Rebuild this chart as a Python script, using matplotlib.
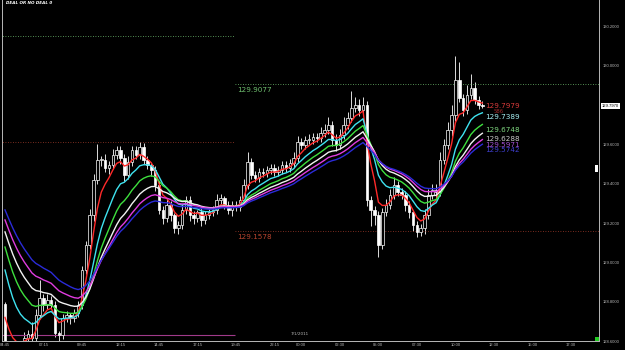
"""
USDJPY-style M15 chart with an EMA ribbon, drawn to look like the MT4 window.
"""

import matplotlib
matplotlib.use("Agg")
import matplotlib.pyplot as plt
from matplotlib.patches import Rectangle

# Close prices, one per 15 minute bar.
closes = [
    128.554, 128.544, 128.529, 128.554, 128.580, 128.615, 128.636, 128.615, 128.732, 128.819,
    128.783, 128.809, 128.783, 128.641, 128.631, 128.717, 128.732, 128.717, 128.742, 128.783,
    128.961, 129.089, 129.241, 129.419, 129.521, 129.521, 129.480, 129.496, 129.547, 129.572,
    129.531, 129.445, 129.511, 129.572, 129.547, 129.587, 129.521, 129.496, 129.470, 129.394,
    129.267, 129.226, 129.292, 129.241, 129.175, 129.190, 129.267, 129.318, 129.241, 129.226,
    129.256, 129.216, 129.241, 129.256, 129.267, 129.318, 129.328, 129.292, 129.267, 129.292,
    129.282, 129.318, 129.394, 129.511, 129.445, 129.429, 129.460, 129.455, 129.470, 129.480,
    129.460, 129.470, 129.496, 129.480, 129.506, 129.531, 129.613, 129.597, 129.623, 129.623,
    129.638, 129.633, 129.659, 129.674, 129.699, 129.623, 129.597, 129.648, 129.699, 129.735,
    129.786, 129.801, 129.776, 129.801, 129.318, 129.267, 129.241, 129.089, 129.256, 129.292,
    129.343, 129.394, 129.358, 129.343, 129.292, 129.256, 129.190, 129.155, 129.175, 129.241,
    129.343, 129.368, 129.358, 129.521, 129.597, 129.674, 129.750, 129.928, 129.837, 129.776,
    129.852, 129.888, 129.826, 129.801, 129.797,
]
first_open = 128.790

# Wick lengths above the body top and below the body bottom.
upper_wicks = [
    0.010, 0.010, 0.010, 0.020, 0.020, 0.030, 0.020, 0.060, 0.030, 0.090,
    0.020, 0.030, 0.020, 0.020, 0.010, 0.020, 0.020, 0.010, 0.020, 0.020,
    0.020, 0.020, 0.030, 0.030, 0.080, 0.020, 0.030, 0.020, 0.030, 0.020,
    0.020, 0.020, 0.030, 0.020, 0.020, 0.025, 0.020, 0.020, 0.010, 0.020,
    0.020, 0.020, 0.030, 0.020, 0.010, 0.020, 0.030, 0.020, 0.020, 0.020,
    0.010, 0.020, 0.020, 0.020, 0.020, 0.030, 0.020, 0.010, 0.020, 0.020,
    0.020, 0.020, 0.030, 0.050, 0.020, 0.020, 0.020, 0.020, 0.020, 0.020,
    0.020, 0.020, 0.020, 0.020, 0.020, 0.030, 0.030, 0.020, 0.020, 0.030,
    0.020, 0.020, 0.030, 0.030, 0.040, 0.020, 0.030, 0.030, 0.040, 0.030,
    0.085, 0.040, 0.030, 0.040, 0.020, 0.020, 0.020, 0.020, 0.020, 0.030,
    0.030, 0.040, 0.020, 0.020, 0.020, 0.020, 0.010, 0.020, 0.020, 0.030,
    0.030, 0.030, 0.030, 0.040, 0.030, 0.040, 0.050, 0.120, 0.090, 0.020,
    0.050, 0.070, 0.030, 0.020, 0.020,
]
lower_wicks = [
    0.010, 0.010, 0.020, 0.020, 0.020, 0.020, 0.030, 0.020, 0.020, 0.020,
    0.030, 0.020, 0.020, 0.020, 0.030, 0.020, 0.020, 0.030, 0.020, 0.020,
    0.020, 0.020, 0.020, 0.030, 0.020, 0.030, 0.020, 0.030, 0.020, 0.020,
    0.030, 0.030, 0.020, 0.020, 0.020, 0.020, 0.020, 0.020, 0.030, 0.030,
    0.020, 0.030, 0.020, 0.030, 0.025, 0.030, 0.020, 0.020, 0.030, 0.030,
    0.020, 0.030, 0.020, 0.020, 0.020, 0.020, 0.020, 0.020, 0.020, 0.030,
    0.020, 0.020, 0.020, 0.020, 0.020, 0.020, 0.020, 0.020, 0.020, 0.020,
    0.020, 0.020, 0.020, 0.020, 0.020, 0.020, 0.020, 0.020, 0.020, 0.020,
    0.020, 0.020, 0.020, 0.020, 0.020, 0.030, 0.030, 0.020, 0.020, 0.020,
    0.020, 0.020, 0.030, 0.020, 0.030, 0.080, 0.050, 0.060, 0.020, 0.020,
    0.020, 0.020, 0.020, 0.020, 0.030, 0.030, 0.030, 0.025, 0.020, 0.030,
    0.020, 0.020, 0.030, 0.020, 0.020, 0.020, 0.030, 0.030, 0.020, 0.030,
    0.020, 0.020, 0.020, 0.020, 0.010,
]

# EMA ribbon: periods, value of each line at the first bar, and label texts.
ema_periods = [5, 10, 15, 20, 25, 30]
ema_seeds = [128.720, 128.961, 129.078, 129.155, 129.216, 129.267]
ema_labels = ["129.7979", "129.7389", "129.6748", "129.6288", "129.5971", "129.5742"]

# Horizontal level lines (previous session / current session).
prev_high = 130.152
prev_low = 129.613
prev_base = 128.630
day_high = 129.9077
day_low = 129.1578
last_price = 129.7970

# Time axis labels: bar index and text.
time_bars = [0, 10, 20, 30, 40, 50, 60, 70, 77, 87, 97, 107, 117, 127, 137, 147]
time_texts = ["04:45", "07:15", "09:45", "12:15", "14:45", "17:15", "19:45", "22:15",
              "00:00", "02:30", "05:00", "07:30", "10:00", "12:30", "15:00", "17:30"]
price_ticks = [128.6, 128.8, 129.0, 129.2, 129.4, 129.6, 129.8, 130.0, 130.2]

# Colours.
ema_colors = ["#ff2a2a", "#3fe3f0", "#3ee03e", "#f2f2f2", "#e03ce0", "#2b2bd8"]
label_colors = ["#d83a3a", "#a6eef2", "#7fd67f", "#c8c8c8", "#a050d0", "#3f3fcf"]
axis_grey = "#b8b8b8"


def ema(values, period, seed):
    """Exponential moving average started from a known first value."""
    alpha = 2.0 / (period + 1)
    out = [seed]
    for v in values[1:]:
        out.append(out[-1] + alpha * (v - out[-1]))
    return out


fig = plt.figure(figsize=(6.25, 3.5), dpi=100, facecolor="black")
ax = fig.add_axes([2 / 625, 9 / 350, 597 / 625, 341 / 350])
ax.set_facecolor("black")

n_bars = len(closes)
bars = list(range(n_bars))
opens = [first_open] + closes[:-1]

# Candles: bearish bars white filled, bullish bars hollow.
for i in bars:
    o, c = opens[i], closes[i]
    top, bot = max(o, c), min(o, c)
    ax.vlines(i, bot - lower_wicks[i], top + upper_wicks[i], color="white", linewidth=0.6, zorder=2)
    face = "white" if c < o else "black"
    ax.add_patch(Rectangle((i - 0.33, bot), 0.66, max(top - bot, 0.003),
                           facecolor=face, edgecolor="white", linewidth=0.5, zorder=3))

# EMA ribbon.
for period, seed, color in zip(ema_periods, ema_seeds, ema_colors):
    ax.plot(bars, ema(closes, period, seed), color=color, linewidth=1.0, zorder=4)

# Level lines.
split = 59.7
x_left, x_right = -1.3, 154.3
ax.hlines(prev_high, x_left, split, color="#6fbf6f", linestyle=(0, (1, 2)), linewidth=0.6)
ax.hlines(prev_low, x_left, split, color="#a03a2a", linestyle=(0, (1, 2)), linewidth=0.6)
ax.hlines(prev_base, x_left, split, color="#a03a8a", linewidth=0.8)
ax.hlines(day_high, split, x_right, color="#6fbf6f", linestyle=(0, (1, 2)), linewidth=0.6)
ax.hlines(day_low, split, x_right, color="#a03a2a", linestyle=(0, (1, 2)), linewidth=0.6)
ax.text(split + 0.5, day_high - 0.03, f"{day_high:.4f}", color="#6fbf6f", fontsize=5.2,
        va="center", ha="left")
ax.text(split + 0.5, day_low - 0.03, f"{day_low:.4f}", color="#b8442e", fontsize=5.2,
        va="center", ha="left")

# EMA value labels at the right end of the ribbon.
for text, color in zip(ema_labels, label_colors):
    ax.text(n_bars - 0.3, float(text), text, color=color, fontsize=5.2, va="center", ha="left")
ax.text(n_bars + 2.0, float(ema_labels[0]) - 0.03, "586", color="#a02a2a", fontsize=3.8,
        va="center", ha="left")

# Date marker and title.
ax.text(76.6, 128.636, "7/1/2011", color=axis_grey, fontsize=3, ha="center", va="center")
ax.text(0.3, 130.320, "DEAL OR NO DEAL 0", color="white", fontsize=3, fontweight="bold",
        fontstyle="italic", ha="left", va="center")

ax.set_xlim(-0.78, 154.3)
ax.set_ylim(128.6, 130.335)

# Axes and ticks in MT4 style.
ax.spines["top"].set_visible(False)
for side in ["left", "right", "bottom"]:
    ax.spines[side].set_color(axis_grey)
    ax.spines[side].set_linewidth(0.7)

ax.yaxis.tick_right()
ax.set_yticks(price_ticks)
ax.set_yticklabels([f"{p:.4f}" for p in price_ticks], fontsize=3, color=axis_grey,
                   family="Liberation Sans")
ax.tick_params(axis="y", length=0, pad=3)
ax.set_xticks(time_bars)
ax.set_xticklabels(time_texts, fontsize=3, color=axis_grey, family="Liberation Sans")
ax.tick_params(axis="x", length=0, pad=1.5)

# Last price box on the price scale.
ax.text(155.0, last_price, f"{last_price:.4f}", color="black", fontsize=3,
        family="Liberation Sans", ha="left", va="center", clip_on=False,
        bbox=dict(boxstyle="square,pad=0.25", facecolor="white", edgecolor="none"))

# Small markers on the right edge of the chart.
ax.add_patch(Rectangle((153.2, 129.46), 0.9, 0.035, facecolor="white", edgecolor="none",
                       clip_on=False, zorder=5))
ax.add_patch(Rectangle((153.3, 128.6), 1.0, 0.018, facecolor="#22cc22", edgecolor="none",
                       clip_on=False, zorder=5))

fig.savefig("out.png", dpi=100, facecolor="black")
